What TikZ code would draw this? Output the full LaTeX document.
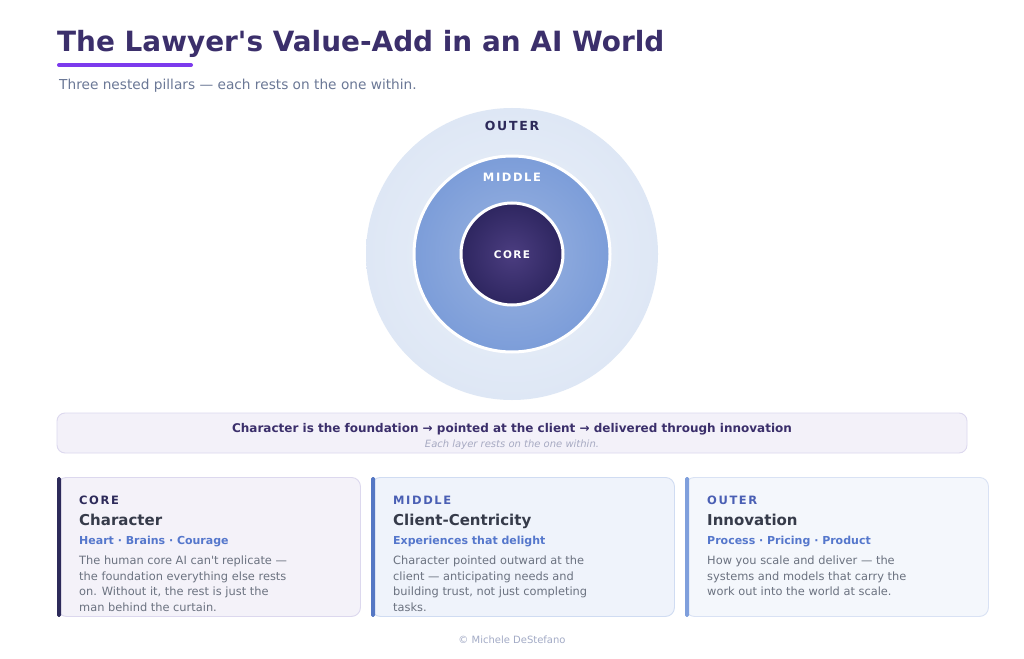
\documentclass[tikz,border=0pt]{standalone}
\usepackage{fontspec}
\setmainfont{DejaVu Sans}
\newfontfamily\trackfont[LetterSpace=14]{DejaVu Sans}
\usetikzlibrary{positioning,calc}

\definecolor{inkpurple}{HTML}{3B2F6B}
\definecolor{accentline}{HTML}{7C3AED}
\definecolor{subgray}{HTML}{6B7896}
\definecolor{outerin}{HTML}{EAF0F9}
\definecolor{outerout}{HTML}{DEE7F5}
\definecolor{middlein}{HTML}{9AB3E0}
\definecolor{middleout}{HTML}{7C9DD9}
\definecolor{corein}{HTML}{4B3D80}
\definecolor{coreout}{HTML}{2E2660}
\definecolor{bannerfill}{HTML}{F3F1F9}
\definecolor{bannerline}{HTML}{DCD8EE}
\definecolor{bannernote}{HTML}{A7AAC2}
\definecolor{corebar}{HTML}{2D2A5A}
\definecolor{middlebar}{HTML}{5577C4}
\definecolor{outerbar}{HTML}{7F9FDC}
\definecolor{corefill}{HTML}{F4F2F9}
\definecolor{middlefill}{HTML}{EFF3FB}
\definecolor{outerfill}{HTML}{F4F7FC}
\definecolor{coreedge}{HTML}{DCD8EE}
\definecolor{middleedge}{HTML}{D0DCF2}
\definecolor{outeredge}{HTML}{D9E2F4}
\definecolor{headgray}{HTML}{363B4A}
\definecolor{tagblue}{HTML}{5577CC}
\definecolor{kickerblue}{HTML}{4A5FB4}
\definecolor{bodygray}{HTML}{6B7280}
\definecolor{footgray}{HTML}{A3ABC6}

\begin{document}
\begin{tikzpicture}[x=1pt, y=-1pt,
  ring/.style={circle, inner sep=0pt},
  ringlabel/.style={font=\trackfont\bfseries\fontsize{11.5}{12}\selectfont},
  card/.style={rounded corners=9pt, line width=0.9pt, minimum width=303pt,
    minimum height=139pt, anchor=north west},
  kicker/.style={anchor=base west, inner sep=0pt,
    font=\trackfont\bfseries\fontsize{11.5}{12}\selectfont},
  cardhead/.style={anchor=base west, inner sep=0pt, text=headgray,
    font=\bfseries\fontsize{15}{18}\selectfont},
  cardtag/.style={anchor=base west, inner sep=0pt, text=tagblue,
    font=\bfseries\fontsize{11}{13}\selectfont},
  cardbody/.style={anchor=north west, inner sep=0pt, text=bodygray, align=left,
    font=\fontsize{11.4}{15.4}\selectfont}]

  \useasboundingbox[fill=white] (0,0) rectangle (1024,658);

  % heading
  \node[anchor=base west, inner sep=0pt, text=inkpurple,
    font=\bfseries\fontsize{27.9}{32}\selectfont] (title) at (57,52)
    {The Lawyer\textquotesingle s Value-Add in an AI World};
  \coordinate (ulstart) at (59,65);
  \coordinate (ulend) at (191,65);
  \draw[accentline, line width=4pt, line cap=round] (ulstart) -- (ulend);
  \node[anchor=base west, inner sep=0pt, text=subgray,
    font=\fontsize{13.7}{16}\selectfont] (subtitle) at (59,90)
    {Three nested pillars --- each rests on the one within.};

  % nested rings
  \node[ring, minimum size=292pt, inner color=outerin, outer color=outerout,
    shade] (outer) at (512,254) {};
  \node[ring, minimum size=196pt, draw=white, line width=3pt,
    inner color=middlein, outer color=middleout, shade] (middle) at (512,254) {};
  \node[ring, minimum size=102pt, draw=white, line width=3pt,
    inner color=corein, outer color=coreout, shade] (core) at (512,254) {};
  \node[ringlabel, text=corebar, font=\trackfont\bfseries\fontsize{12.5}{13}\selectfont]
    (outerlbl) at (512,125.5) {OUTER};
  \node[ringlabel, text=white] (middlelbl) at (512,177.5) {MIDDLE};
  \node[ringlabel, text=white, font=\trackfont\bfseries\fontsize{10.5}{11}\selectfont]
    (corelbl) at (512,255) {CORE};

  % summary banner
  \node[draw=bannerline, fill=bannerfill, rounded corners=8pt, line width=0.9pt,
    minimum width=910pt, minimum height=40pt] (banner) at (512,433) {};
  \node[text=inkpurple, font=\bfseries\fontsize{12}{14}\selectfont]
    (bannermain) at (512,429.5)
    {Character is the foundation → pointed at the client → delivered through innovation};
  \node[text=bannernote, font=\itshape\fontsize{10}{11}\selectfont]
    (bannersub) at (512,444.5) {Each layer rests on the one within.};

  % cards
  \node[card, draw=coreedge, fill=corefill] (corecard) at (57,477) {};
  \node[card, draw=middleedge, fill=middlefill] (middlecard) at (371,477) {};
  \node[card, draw=outeredge, fill=outerfill] (outercard) at (685,477) {};
  \fill[corebar, rounded corners=1.5pt] (corecard.north west) rectangle
    ($(corecard.south west)+(4,0)$);
  \fill[middlebar, rounded corners=1.5pt] (middlecard.north west) rectangle
    ($(middlecard.south west)+(4,0)$);
  \fill[outerbar, rounded corners=1.5pt] (outercard.north west) rectangle
    ($(outercard.south west)+(4,0)$);

  \node[kicker, text=corebar] (corekick) at ($(corecard.north west)+(22,27)$) {CORE};
  \node[cardhead] (corehead) at ($(corecard.north west)+(22,48)$) {Character};
  \node[cardtag] (coretag) at ($(corecard.north west)+(22,67)$)
    {Heart · Brains · Courage};
  \node[cardbody] (corebody) at ($(corecard.north west)+(22,79)$)
    {The human core AI can\textquotesingle t replicate ---\\
     the foundation everything else rests\\
     on. Without it, the rest is just the\\
     man behind the curtain.};

  \node[kicker, text=kickerblue] (middlekick) at ($(middlecard.north west)+(22,27)$) {MIDDLE};
  \node[cardhead] (middlehead) at ($(middlecard.north west)+(22,48)$) {Client-Centricity};
  \node[cardtag] (middletag) at ($(middlecard.north west)+(22,67)$)
    {Experiences that delight};
  \node[cardbody] (middlebody) at ($(middlecard.north west)+(22,79)$)
    {Character pointed outward at the\\
     client --- anticipating needs and\\
     building trust, not just completing\\
     tasks.};

  \node[kicker, text=kickerblue] (outerkick) at ($(outercard.north west)+(22,27)$) {OUTER};
  \node[cardhead] (outerhead) at ($(outercard.north west)+(22,48)$) {Innovation};
  \node[cardtag] (outertag) at ($(outercard.north west)+(22,67)$)
    {Process · Pricing · Product};
  \node[cardbody] (outerbody) at ($(outercard.north west)+(22,79)$)
    {How you scale and deliver --- the\\
     systems and models that carry the\\
     work out into the world at scale.};

  % footer
  \node[text=footgray, font=\fontsize{10}{11}\selectfont] (footer) at (512,640)
    {© Michele DeStefano};
\end{tikzpicture}
\end{document}
